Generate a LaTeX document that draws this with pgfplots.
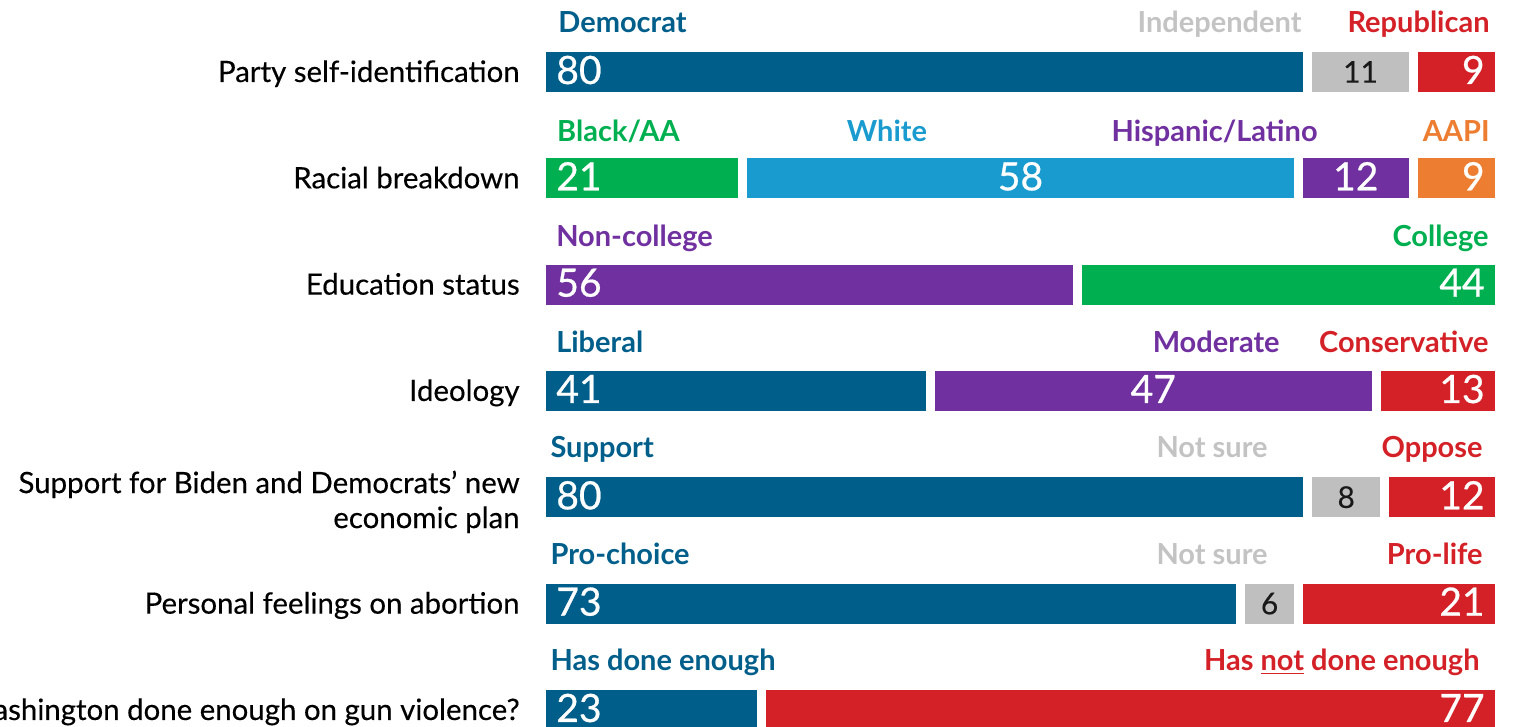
\documentclass[border=0pt]{standalone}
\usepackage{fontspec}
\setmainfont{Lato}
\newfontfamily\medfont[FakeBold=0.6]{Lato}
\newfontfamily\labfont[FakeBold=0.3]{Lato}
\usepackage{pgfplots}
\usepackage{pgfplotstable}
\pgfplotsset{compat=1.18}
\definecolor{dblue}{HTML}{005E8A}
\definecolor{gbar}{HTML}{BFBFBF}
\definecolor{glab}{HTML}{C3C3C3}
\definecolor{rred}{HTML}{D42127}
\definecolor{ggreen}{HTML}{00B050}
\definecolor{lblue}{HTML}{1A9BCF}
\definecolor{ppurple}{HTML}{7030A0}
\definecolor{oorange}{HTML}{ED7D31}
\pgfplotstableread{
r blue greenA lblue purple gray greenB orange red
0 80 0 0 0 11 0 0 9
1 0 21 58 12 0 0 9 0
2 0 0 0 56 0 44 0 0
3 40.594 0 0 46.535 0 0 0 12.871
4 80 0 0 0 8 0 0 12
5 73 0 0 0 6 0 0 21
6 23 0 0 0 0 0 0 77
}\mydata
\begin{document}
\begin{tikzpicture}[
  cat/.style={font=\fontsize{14.5}{17}\selectfont\bfseries, inner sep=0pt},
  val/.style={font=\fontsize{19.5}{22}\selectfont\medfont, text=white, inner sep=0pt},
  gval/.style={font=\fontsize{15}{18}\selectfont\labfont, text=black!90, inner sep=0pt},
  rowlab/.style={font=\fontsize{14.7}{17}\selectfont\labfont, inner sep=0pt, anchor=base east},
]
\useasboundingbox (0,0) rectangle (758pt,363.5pt);
\clip (0,0) rectangle (758pt,363.5pt);
\begin{axis}[
  at={(0,0)}, anchor=south west,
  width=758pt, height=363.5pt, scale only axis,
  xmin=-56.524, xmax=101.723, ymin=-0.6771, ymax=6.160,
  y dir=reverse, hide axis, clip=false,
  xbar stacked, bar width=24.5pt,
  every axis plot/.append style={draw=white, line width=4.5pt},
]
\addplot[fill=dblue] table[x=blue,y=r]{\mydata};
\addplot[fill=ggreen] table[x=greenA,y=r]{\mydata};
\addplot[fill=lblue] table[x=lblue,y=r]{\mydata};
\addplot[fill=ppurple] table[x=purple,y=r]{\mydata};
\addplot[fill=gbar] table[x=gray,y=r]{\mydata};
\addplot[fill=ggreen] table[x=greenB,y=r]{\mydata};
\addplot[fill=oorange] table[x=orange,y=r]{\mydata};
\addplot[fill=rred] table[x=red,y=r]{\mydata};

% row labels
\node[rowlab] at (axis cs:-2.244,0.094) {Party self-identification};
\node[rowlab] at (axis cs:-2.244,1.094) {Racial breakdown};
\node[rowlab] at (axis cs:-2.244,2.094) {Education status};
\node[rowlab] at (axis cs:-2.244,3.094) {Ideology};
\node[rowlab] at (axis cs:-2.244,3.960) {Support for Biden and Democrats’ new};
\node[rowlab] at (axis cs:-2.244,4.289) {economic plan};
\node[rowlab] at (axis cs:-2.244,5.094) {Personal feelings on abortion};
\node[rowlab] at (axis cs:-2.244,6.094) {Has Washington done enough on gun violence?};

% category labels
\node[cat, text=dblue, anchor=base west] at (axis cs:1.72,-0.37) {Democrat};
\node[cat, text=glab, anchor=base east] at (axis cs:79.38,-0.37) {Independent};
\node[cat, text=rred, anchor=base east] at (axis cs:99.01,-0.37) {Republican};

\node[cat, text=ggreen, anchor=base west] at (axis cs:1.6,0.65) {Black/AA};
\node[cat, text=lblue, anchor=base] at (axis cs:36.06,0.65) {White};
\node[cat, text=ppurple, anchor=base east] at (axis cs:81.05,0.65) {Hispanic/Latino};
\node[cat, text=oorange, anchor=base east] at (axis cs:99.01,0.65) {AAPI};

\node[cat, text=ppurple, anchor=base west] at (axis cs:1.5,1.64) {Non-college};
\node[cat, text=ggreen, anchor=base east] at (axis cs:98.90,1.64) {College};

\node[cat, text=dblue, anchor=base west] at (axis cs:1.5,2.64) {Liberal};
\node[cat, text=ppurple, anchor=base east] at (axis cs:77.09,2.64) {Moderate};
\node[cat, text=rred, anchor=base east] at (axis cs:98.90,2.64) {Conservative};

\node[cat, text=dblue, anchor=base west] at (axis cs:0.9,3.63) {Support};
\node[cat, text=glab, anchor=base east] at (axis cs:75.84,3.63) {Not sure};
\node[cat, text=rred, anchor=base east] at (axis cs:98.28,3.63) {Oppose};

\node[cat, text=dblue, anchor=base west] at (axis cs:0.9,4.63) {Pro-choice};
\node[cat, text=glab, anchor=base east] at (axis cs:75.84,4.63) {Not sure};
\node[cat, text=rred, anchor=base east] at (axis cs:98.28,4.63) {Pro-life};

\node[cat, text=dblue, anchor=base west] at (axis cs:0.9,5.63) {Has done enough};
\node[cat, text=rred, anchor=base east] at (axis cs:97.97,5.63) {Has \underline{not} done enough};

% value anchor coordinates
\coordinate (L0) at (axis cs:1.51,0.113);
\coordinate (L1) at (axis cs:1.51,1.113);
\coordinate (L2) at (axis cs:1.51,2.113);
\coordinate (L3) at (axis cs:1.51,3.113);
\coordinate (L4) at (axis cs:1.51,4.113);
\coordinate (L5) at (axis cs:1.51,5.113);
\coordinate (L6) at (axis cs:1.51,6.113);
\coordinate (R0) at (axis cs:98.49,0.113);
\coordinate (R1) at (axis cs:98.49,1.113);
\coordinate (R2) at (axis cs:98.49,2.113);
\coordinate (R3) at (axis cs:98.49,3.113);
\coordinate (R4) at (axis cs:98.49,4.113);
\coordinate (R5) at (axis cs:98.49,5.113);
\coordinate (R6) at (axis cs:98.49,6.113);
\coordinate (M0) at (axis cs:85.5,0.10);
\coordinate (M1a) at (axis cs:50,1.113);
\coordinate (M1b) at (axis cs:85,1.113);
\coordinate (M3) at (axis cs:63.86,3.113);
\coordinate (M4) at (axis cs:84,4.10);
\coordinate (M5) at (axis cs:76,5.10);
\end{axis}
% values (drawn on top of the bars)
\node[val, anchor=base west] at (L0) {80};
\node[gval, anchor=base] at (M0) {11};
\node[val, anchor=base east] at (R0) {9};

\node[val, anchor=base west] at (L1) {21};
\node[val, anchor=base] at (M1a) {58};
\node[val, anchor=base] at (M1b) {12};
\node[val, anchor=base east] at (R1) {9};

\node[val, anchor=base west] at (L2) {56};
\node[val, anchor=base east] at (R2) {44};

\node[val, anchor=base west] at (L3) {41};
\node[val, anchor=base] at (M3) {47};
\node[val, anchor=base east] at (R3) {13};

\node[val, anchor=base west] at (L4) {80};
\node[gval, anchor=base] at (M4) {8};
\node[val, anchor=base east] at (R4) {12};

\node[val, anchor=base west] at (L5) {73};
\node[gval, anchor=base] at (M5) {6};
\node[val, anchor=base east] at (R5) {21};

\node[val, anchor=base west] at (L6) {23};
\node[val, anchor=base east] at (R6) {77};
\end{tikzpicture}
\end{document}
